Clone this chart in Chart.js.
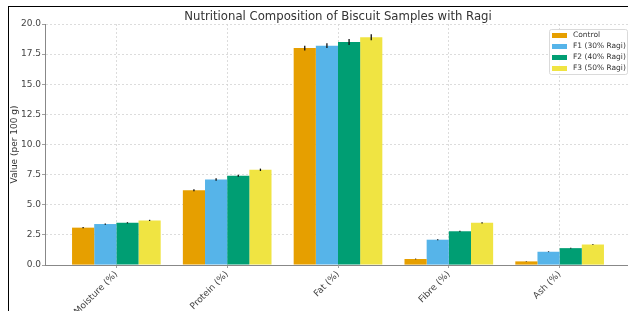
<!DOCTYPE html>
<html lang="en">
<head>
    <meta charset="UTF-8">
    <title>Nutritional Composition of Biscuit Samples with Ragi</title>
    <script src="https://cdn.jsdelivr.net/npm/chart.js"></script>
    <style>
        html, body {
            margin: 0;
            padding: 0;
            background: #fff;
            overflow: hidden;
        }
        #frame {
            position: absolute;
            left: 8px;
            top: 6px;
            width: 619px;
            height: 304px;
            border-left: 1px solid #000;
            border-top: 1px solid #000;
            overflow: hidden;
        }
        #chart {
            display: block;
        }
    </style>
</head>
<body>
    <div id="frame">
        <canvas id="chart" width="625" height="304"></canvas>
    </div>
    <script>
        const categories = ['Moisture (%)', 'Protein (%)', 'Fat (%)', 'Fibre (%)', 'Ash (%)'];
        const seriesNames = ['Control', 'F1 (30% Ragi)', 'F2 (40% Ragi)', 'F3 (50% Ragi)'];

        const controlValues = [3.1, 6.2, 18.0, 0.5, 0.3];
        const f1Values = [3.4, 7.1, 18.2, 2.1, 1.1];
        const f2Values = [3.5, 7.4, 18.5, 2.8, 1.4];
        const f3Values = [3.7, 7.9, 18.9, 3.5, 1.7];

        const controlErr = [0.05, 0.08, 0.2, 0.03, 0.02];
        const f1Err = [0.05, 0.1, 0.2, 0.04, 0.03];
        const f2Err = [0.05, 0.08, 0.25, 0.05, 0.03];
        const f3Err = [0.05, 0.1, 0.25, 0.05, 0.03];

        const colors = ['#E69F00', '#56B4E9', '#009E73', '#F0E442'];
        const allValues = [controlValues, f1Values, f2Values, f3Values];
        const allErrors = [controlErr, f1Err, f2Err, f3Err];

        const FONT = "'DejaVu Sans', sans-serif";

        // matplotlib-style error bars, drawn on top of each bar
        const errorBars = {
            id: 'errorBars',
            afterDatasetsDraw(chart) {
                const ctx = chart.ctx;
                const y = chart.scales.y;
                ctx.save();
                ctx.strokeStyle = '#111';
                ctx.lineWidth = 1.3;
                chart.data.datasets.forEach((ds, di) => {
                    const meta = chart.getDatasetMeta(di);
                    meta.data.forEach((bar, i) => {
                        const v = ds.data[i].y;
                        const e = allErrors[di][i];
                        ctx.beginPath();
                        ctx.moveTo(bar.x, y.getPixelForValue(v - e));
                        ctx.lineTo(bar.x, y.getPixelForValue(v + e));
                        ctx.stroke();
                    });
                });
                ctx.restore();
            }
        };

        // legend box in the upper right corner of the plot
        const cornerLegend = {
            id: 'cornerLegend',
            afterDraw(chart) {
                const ctx = chart.ctx;
                const bx = 540, by = 22, bw = 78, bh = 45;
                ctx.save();
                ctx.fillStyle = 'rgba(255,255,255,0.85)';
                ctx.strokeStyle = '#d0d0d0';
                ctx.lineWidth = 0.8;
                ctx.beginPath();
                ctx.roundRect(bx + 0.5, by + 0.5, bw, bh, 2);
                ctx.fill();
                ctx.stroke();
                ctx.font = '7.5px ' + FONT;
                ctx.textBaseline = 'middle';
                ctx.textAlign = 'left';
                chart.data.datasets.forEach((ds, i) => {
                    const cy = by + 6.5 + i * 11;
                    ctx.fillStyle = ds.backgroundColor;
                    ctx.fillRect(bx + 3, cy - 2.5, 15, 5);
                    ctx.fillStyle = '#333';
                    ctx.fillText(ds.label, bx + 24, cy);
                });
                ctx.restore();
            }
        };

        const datasets = seriesNames.map((name, si) => ({
            label: name,
            data: allValues[si].map((v, i) => ({ x: i, y: v })),
            backgroundColor: colors[si],
            borderWidth: 0,
            categoryPercentage: 0.8,
            barPercentage: 1.0
        }));

        new Chart(document.getElementById('chart'), {
            type: 'bar',
            data: { datasets: datasets },
            options: {
                responsive: false,
                animation: false,
                layout: { padding: { left: 0, right: 3, top: 0, bottom: 0 } },
                plugins: {
                    legend: { display: false },
                    tooltip: { enabled: false },
                    title: {
                        display: true,
                        text: 'Nutritional Composition of Biscuit Samples with Ragi',
                        fullSize: false,
                        color: '#333',
                        font: { family: FONT, size: 11.7, weight: 'normal', lineHeight: '14px' },
                        padding: { top: 3, bottom: 0 }
                    }
                },
                scales: {
                    x: {
                        type: 'linear',
                        offset: false,
                        min: -0.644,
                        max: 4.644,
                        afterBuildTicks(scale) {
                            scale.ticks = categories.map((c, i) => ({ value: i }));
                        },
                        afterFit(scale) {
                            scale.height = 46;
                        },
                        ticks: {
                            minRotation: 45,
                            maxRotation: 45,
                            autoSkip: false,
                            padding: 1,
                            color: '#444',
                            font: { family: FONT, size: 9 },
                            callback: (v) => categories[v]
                        },
                        grid: {
                            offset: false,
                            color: '#d4d4d4',
                            lineWidth: 0.8,
                            tickLength: 3,
                            tickColor: '#888'
                        },
                        border: { display: true, color: '#888', width: 1, dash: [2, 2] }
                    },
                    y: {
                        min: 0,
                        max: 20,
                        afterFit(scale) {
                            scale.width = 36;
                        },
                        ticks: {
                            stepSize: 2.5,
                            padding: 1,
                            color: '#444',
                            font: { family: FONT, size: 9 },
                            callback: (v) => v.toFixed(1)
                        },
                        grid: {
                            color: '#d4d4d4',
                            lineWidth: 0.8,
                            tickLength: 3,
                            tickColor: '#888'
                        },
                        border: { display: true, color: '#888', width: 1, dash: [2, 2] },
                        title: {
                            display: true,
                            text: 'Value (per 100 g)',
                            color: '#333',
                            font: { family: FONT, size: 9 },
                            padding: { top: 0, bottom: 0 }
                        }
                    }
                }
            },
            plugins: [errorBars, cornerLegend]
        });
    </script>
</body>
</html>
